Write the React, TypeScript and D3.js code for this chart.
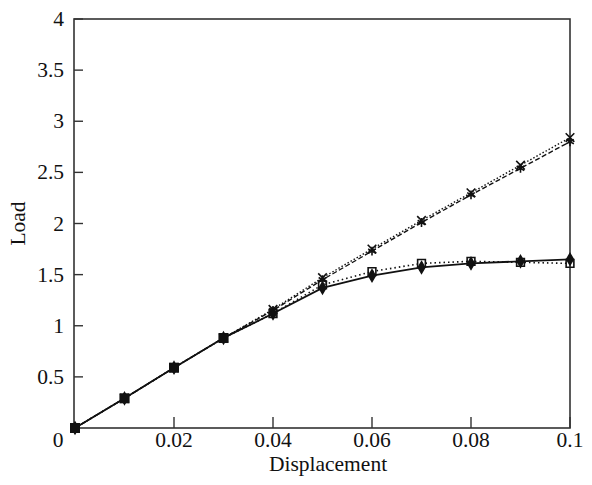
import React from "react";
import * as d3 from "d3";

// displacement steps
const displacement = [0, 0.01, 0.02, 0.03, 0.04, 0.05, 0.06, 0.07, 0.08, 0.09, 0.1];

// load values
const loadX = [0, 0.29, 0.59, 0.88, 1.16, 1.47, 1.75, 2.03, 2.30, 2.57, 2.84];
const loadStar = [0, 0.29, 0.59, 0.88, 1.15, 1.45, 1.73, 2.01, 2.28, 2.54, 2.80];
const loadSquare = [0, 0.29, 0.59, 0.88, 1.12, 1.40, 1.53, 1.61, 1.63, 1.62, 1.61];
const loadSolid = [0, 0.29, 0.59, 0.88, 1.12, 1.37, 1.49, 1.57, 1.61, 1.63, 1.65];

const xTicks = [0.02, 0.04, 0.06, 0.08, 0.1];
const xTickLabels = ["0.02", "0.04", "0.06", "0.08", "0.1"];
const yTicks = [0.5, 1, 1.5, 2, 2.5, 3, 3.5, 4];
const yTickLabels = ["0.5", "1", "1.5", "2", "2.5", "3", "3.5", "4"];

const App = () => {
    const width = 592;
    const height = 485;
    const left = 74;
    const right = 570;
    const top = 19;
    const bottom = 428;

    const xScale = d3.scaleLinear().domain([0, 0.1]).range([left + 1, right]);
    const yScale = d3.scaleLinear().domain([0, 4]).range([bottom, top]);

    const line = d3
        .line<number>()
        .x((d, i) => xScale(displacement[i]))
        .y((d) => yScale(d));

    const series = [
        { values: loadX, dash: "1.5,2", symbol: d3.symbolX, size: 50, filled: false, width: 1.4 },
        { values: loadStar, dash: "5,2.5", symbol: d3.symbolAsterisk, size: 55, filled: false, width: 1.4 },
        { values: loadSquare, dash: "1.5,3", symbol: d3.symbolSquare, size: 60, filled: false, width: 1.6 },
        { values: loadSolid, dash: null, symbol: d3.symbolDiamond, size: 38, filled: true, width: 1.8 },
    ];

    const font = "'Liberation Serif', 'Times New Roman', serif";
    const fs = 21.5;

    return (
        <svg
            width={width}
            height={height}
            style={{ position: "absolute", left: 0, top: 0, background: "white" }}
        >
            {/* frame */}
            <rect
                x={left}
                y={top}
                width={right - left}
                height={bottom - top}
                fill="none"
                stroke="#333"
                strokeWidth={1.6}
            />

            {/* x ticks */}
            {xTicks.map((t, i) => (
                <g key={"x" + t}>
                    <line
                        x1={xScale(t)}
                        x2={xScale(t)}
                        y1={bottom}
                        y2={bottom - 11}
                        stroke="#333"
                        strokeWidth={1.4}
                    />
                    <text
                        x={xScale(t)}
                        y={447}
                        textAnchor="middle"
                        fontFamily={font}
                        fontSize={fs}
                        fill="#111"
                    >
                        {xTickLabels[i]}
                    </text>
                </g>
            ))}

            {/* shared origin label */}
            <text x={58} y={447} textAnchor="middle" fontFamily={font} fontSize={fs} fill="#111">
                0
            </text>

            {/* y ticks */}
            {yTicks.map((t, i) => (
                <g key={"y" + t}>
                    <line
                        x1={left}
                        x2={left + 9}
                        y1={yScale(t)}
                        y2={yScale(t)}
                        stroke="#333"
                        strokeWidth={1.4}
                    />
                    <text
                        x={64}
                        y={yScale(t) + 7}
                        textAnchor="end"
                        fontFamily={font}
                        fontSize={fs}
                        fill="#111"
                    >
                        {yTickLabels[i]}
                    </text>
                </g>
            ))}

            {/* axis titles */}
            <text x={328} y={471} textAnchor="middle" fontFamily={font} fontSize={fs} fill="#111">
                Displacement
            </text>
            <text
                transform={`translate(25, ${(top + bottom) / 2}) rotate(-90)`}
                textAnchor="middle"
                fontFamily={font}
                fontSize={fs}
                fill="#111"
            >
                Load
            </text>

            {/* series */}
            {series.map((s, si) => (
                <g key={"s" + si}>
                    <path
                        d={line(s.values) || ""}
                        fill="none"
                        stroke="#111"
                        strokeWidth={s.width}
                        strokeDasharray={s.dash || undefined}
                    />
                    {s.values.map((v, i) => (
                        <path
                            key={i}
                            d={d3.symbol().type(s.symbol).size(s.size)() || ""}
                            transform={`translate(${xScale(displacement[i])}, ${yScale(v)})`}
                            fill={s.filled ? "#111" : "none"}
                            stroke="#111"
                            strokeWidth={1.6}
                        />
                    ))}
                </g>
            ))}

            {/* overlapping early points read as solid squares */}
            {displacement.slice(0, 4).map((d, i) => (
                <rect
                    key={"f" + i}
                    x={xScale(d) - 5}
                    y={yScale(loadSolid[i]) - 5}
                    width={10}
                    height={10}
                    fill="#111"
                />
            ))}
        </svg>
    );
};

export default App;
